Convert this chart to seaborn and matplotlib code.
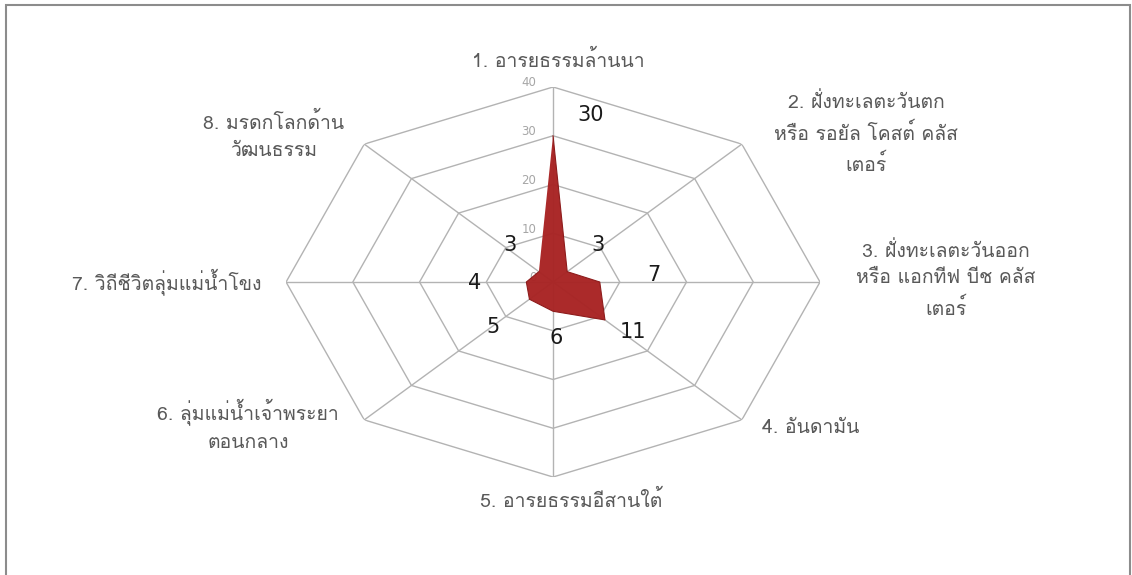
import numpy as np
import matplotlib
matplotlib.use("Agg")
import matplotlib.pyplot as plt
import seaborn as sns
from matplotlib import font_manager
from matplotlib.ft2font import FT2Font
from matplotlib.patches import Rectangle

categories = [
    "1. อารยธรรมล้านนา",
    "2. ฝั่งทะเลตะวันตก\nหรือ รอยัล โคสต์ คลัส\nเตอร์",
    "3. ฝั่งทะเลตะวันออก\nหรือ แอกทีฟ บีช คลัส\nเตอร์",
    "4. อันดามัน",
    "5. อารยธรรมอีสานใต้",
    "6. ลุ่มแม่น้ำเจ้าพระยา\nตอนกลาง",
    "7. วิถีชีวิตลุ่มแม่น้ำโขง",
    "8. มรดกโลกด้าน\nวัฒนธรรม",
]
values = [30, 3, 7, 11, 6, 5, 4, 3]
rings = [10, 20, 30, 40]
tick_values = [0, 10, 20, 30, 40]


def find_thai_font():
    picks = []
    for f in font_manager.fontManager.ttflist:
        try:
            cmap = FT2Font(f.fname).get_charmap()
        except Exception:
            continue
        if 0x0E01 in cmap:
            picks.append(f.name)

    def rank(name):
        for i, key in enumerate(["Tahoma", "Loma", "Looped", "Thai"]):
            if key in name:
                return i
        return 9
    picks.sort(key=lambda nm: (rank(nm), nm))
    return picks[0] if picks else None


sns.set_style("white")
thai = find_thai_font()
plt.rcParams["font.family"] = ([thai] if thai else []) + ["DejaVu Sans"]

n = len(values)
angles = np.arange(n) * 2 * np.pi / n
closed = np.append(angles, angles[0])

W, H = 1132, 575
fig = plt.figure(figsize=(W / 100, H / 100), dpi=100)
ax = fig.add_axes([0.2527, 0.1704, 0.4717, 0.6783], projection="polar")
ax.set_aspect("auto")
ax.set_theta_zero_location("N")
ax.set_theta_direction(-1)
ax.set_ylim(0, 40)
ax.grid(False)
ax.spines["polar"].set_visible(False)
ax.set_xticks([])
ax.set_yticks([])

grid_col = "#b3b3b3"
for r in rings:
    ax.plot(closed, [r] * (n + 1), color=grid_col, lw=1.0, zorder=1)
for a in angles:
    ax.plot([a, a], [0, 40], color=grid_col, lw=1.0, zorder=1)

# radial scale labels next to the top spoke
for t in tick_values:
    ax.annotate(str(t), xy=(0, t), xytext=(-12, 3), textcoords="offset points",
                ha="right", va="center", fontsize=8.5, color="#a6a6a6",
                family="DejaVu Sans", zorder=2)

ax.fill(closed, values + values[:1], color="#a82323", alpha=0.97, zorder=3, lw=0)
sns.lineplot(x=closed, y=values + values[:1], ax=ax, sort=False,
             color="#8e1c1c", lw=0.8, zorder=4)

# data labels
offsets = [(27, 15), (22, 19), (39, 5), (20, -9), (2, -19), (-26, -20), (-37, -1), (-21, 19)]
for a, v, off in zip(angles, values, offsets):
    ax.annotate(str(v), xy=(a, v), xytext=off, textcoords="offset points",
                ha="center", va="center", fontsize=15, color="#1a1a1a",
                family="DejaVu Sans", zorder=5)

# category labels, centre positions in pixels
label_pos = [(558, 60), (866, 134), (946, 280), (811, 428),
             (571, 500), (248, 425), (167, 282), (274, 136)]
for lab, (px, py) in zip(categories, label_pos):
    fig.text(px / W, 1 - py / H, lab, ha="center", va="center", fontsize=14,
             color="#595959", linespacing=1.6, multialignment="center")

fig.patches.append(Rectangle((6 / W, -0.05), 1124 / W, 1.05 - 5 / H,
                             transform=fig.transFigure, fill=False,
                             edgecolor="#8c8c8c", lw=1.5))

fig.savefig("out.png", dpi=100)
